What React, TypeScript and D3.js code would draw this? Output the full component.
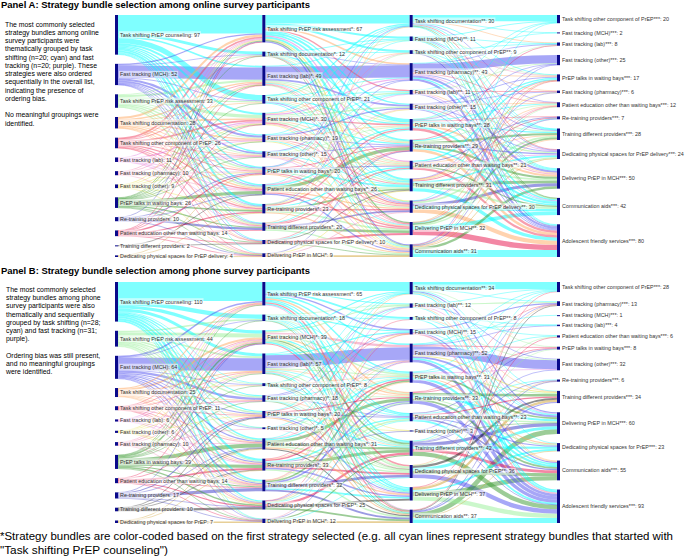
import { useEffect, useRef } from 'react';
import * as d3 from 'd3';

// ---------- Panel A: online survey ----------
const namesA1 = ['Task shifting PrEP counseling', 'Fast tracking (MCH)', 'Task shifting PrEP risk assessment', 'Task shifting documentation', 'Task shifting other component of PrEP', 'Fast tracking (lab)', 'Fast tracking (pharmacy)', 'Fast tracking (other)', 'PrEP talks in waiting bays', 'Re-training providers', 'Patient education other than waiting bays', 'Training different providers', 'Dedicating physical spaces for PrEP delivery'];
const valuesA1 = [97, 52, 33, 28, 26, 11, 10, 9, 26, 10, 14, 2, 4];
const namesA2 = ['Task shifting PrEP risk assessment', 'Task shifting documentation', 'Fast tracking (lab)', 'Task shifting other component of PrEP', 'Fast tracking (MCH)', 'Fast tracking (pharmacy)', 'Fast tracking (other)', 'PrEP talks in waiting bays', 'Patient education other than waiting bays', 'Re-training providers', 'Training different providers', 'Dedicating physical spaces for PrEP delivery', 'Delivering PrEP in MCH'];
const valuesA2 = [67, 12, 49, 21, 30, 19, 15, 20, 26, 23, 20, 10, 9];
const namesA3 = ['Task shifting documentation', 'Fast tracking (MCH)', 'Task shifting other component of PrEP', 'Fast tracking (pharmacy)', 'Fast tracking (lab)', 'Fast tracking (other)', 'PrEP talks in waiting bays', 'Re-training providers', 'Patient education other than waiting bays', 'Training different providers', 'Dedicating physical spaces for PrEP delivery', 'Delivering PrEP in MCH', 'Communication aids'];
const valuesA3 = [30, 11, 9, 43, 11, 15, 28, 29, 21, 31, 30, 32, 31];
const namesA4 = ['Task shifting other component of PrEP', 'Fast tracking (MCH)', 'Fast tracking (lab)', 'Fast tracking (other)', 'PrEP talks in waiting bays', 'Fast tracking (pharmacy)', 'Patient education other than waiting bays', 'Re-training providers', 'Training different providers', 'Dedicating physical spaces for PrEP delivery', 'Delivering PrEP in MCH', 'Communication aids', 'Adolescent friendly services'];
const valuesA4 = [20, 2, 8, 25, 17, 6, 12, 7, 28, 24, 50, 42, 80];

// [source, target, count] (colour = first strategy = source)
const linksA12 = [
  [0, 0, 45], [0, 1, 7], [0, 2, 4], [0, 3, 13], [0, 4, 5], [0, 5, 3], [0, 6, 3], [0, 7, 3], [0, 8, 4], [0, 9, 5], [0, 10, 2], [0, 11, 2], [0, 12, 1],
  [1, 2, 30], [1, 0, 3], [1, 5, 5], [1, 6, 4], [1, 3, 2], [1, 7, 2], [1, 8, 2], [1, 9, 1], [1, 10, 1], [1, 1, 1], [1, 11, 1],
  [2, 1, 2], [2, 2, 5], [2, 3, 3], [2, 4, 8], [2, 5, 2], [2, 6, 2], [2, 7, 3], [2, 8, 3], [2, 9, 2], [2, 10, 3],
  [3, 0, 5], [3, 2, 3], [3, 3, 2], [3, 4, 4], [3, 5, 3], [3, 6, 2], [3, 7, 2], [3, 8, 3], [3, 9, 2], [3, 10, 1], [3, 11, 1],
  [4, 0, 4], [4, 1, 1], [4, 2, 2], [4, 4, 4], [4, 5, 2], [4, 6, 1], [4, 7, 2], [4, 8, 3], [4, 9, 3], [4, 10, 2], [4, 11, 1], [4, 12, 1],
  [5, 4, 3], [5, 5, 2], [5, 0, 2], [5, 6, 1], [5, 8, 1], [5, 9, 1], [5, 10, 1],
  [6, 0, 2], [6, 2, 2], [6, 4, 2], [6, 6, 1], [6, 7, 1], [6, 12, 1], [6, 8, 1],
  [7, 0, 2], [7, 2, 1], [7, 4, 2], [7, 5, 1], [7, 7, 1], [7, 9, 1], [7, 12, 1],
  [8, 8, 8], [8, 9, 4], [8, 0, 2], [8, 2, 1], [8, 4, 1], [8, 3, 1], [8, 10, 3], [8, 11, 2], [8, 12, 1], [8, 1, 1], [8, 5, 1], [8, 6, 1],
  [9, 10, 5], [9, 7, 2], [9, 8, 1], [9, 0, 1], [9, 12, 1],
  [10, 7, 3], [10, 9, 3], [10, 0, 1], [10, 4, 1], [10, 10, 2], [10, 11, 2], [10, 2, 1], [10, 12, 1],
  [11, 11, 1], [11, 8, 1],
  [12, 12, 2], [12, 9, 1], [12, 7, 1],
];
// [source, target, count, first strategy]
const linksA23 = [
  [0, 0, 21, 0], [0, 1, 5, 0], [0, 2, 5, 0], [0, 3, 4, 3], [0, 4, 3, 4], [0, 5, 3, 0], [0, 6, 5, 0], [0, 7, 4, 0], [0, 8, 3, 5], [0, 9, 5, 0], [0, 10, 3, 7], [0, 11, 3, 8], [0, 12, 3, 1],
  [1, 1, 2, 0], [1, 2, 1, 0], [1, 3, 1, 1], [1, 6, 3, 0], [1, 7, 1, 2], [1, 9, 1, 2], [1, 10, 1, 0], [1, 11, 1, 4], [1, 12, 1, 8],
  [2, 3, 30, 1], [2, 5, 4, 1], [2, 1, 2, 0], [2, 6, 2, 2], [2, 7, 2, 2], [2, 8, 2, 3], [2, 9, 2, 0], [2, 10, 2, 6], [2, 11, 1, 4], [2, 12, 2, 2],
  [3, 0, 3, 0], [3, 1, 1, 2], [3, 3, 2, 0], [3, 4, 2, 0], [3, 6, 3, 0], [3, 7, 2, 3], [3, 8, 2, 2], [3, 9, 2, 0], [3, 10, 2, 1], [3, 12, 2, 0],
  [4, 4, 3, 2], [4, 3, 3, 5], [4, 0, 2, 0], [4, 2, 1, 3], [4, 5, 3, 2], [4, 6, 3, 4], [4, 7, 3, 0], [4, 8, 2, 3], [4, 9, 3, 2], [4, 10, 3, 4], [4, 11, 2, 6], [4, 12, 2, 7],
  [5, 4, 1, 0], [5, 5, 3, 1], [5, 0, 1, 0], [5, 6, 2, 3], [5, 7, 2, 1], [5, 8, 2, 2], [5, 9, 2, 4], [5, 10, 2, 3], [5, 11, 2, 0], [5, 12, 2, 7],
  [6, 3, 2, 1], [6, 4, 1, 0], [6, 6, 2, 2], [6, 7, 2, 1], [6, 8, 1, 3], [6, 9, 2, 0], [6, 10, 2, 4], [6, 11, 2, 3], [6, 12, 1, 5],
  [7, 7, 2, 10], [7, 8, 2, 9], [7, 9, 4, 0], [7, 10, 3, 2], [7, 11, 3, 4], [7, 12, 3, 3], [7, 0, 1, 1], [7, 1, 1, 0], [7, 2, 1, 6],
  [8, 7, 8, 8], [8, 6, 3, 0], [8, 9, 3, 2], [8, 10, 3, 3], [8, 11, 3, 4], [8, 12, 3, 1], [8, 0, 1, 0], [8, 4, 1, 5], [8, 5, 1, 6],
  [9, 9, 4, 8], [9, 8, 3, 0], [9, 6, 3, 4], [9, 10, 3, 10], [9, 11, 4, 2], [9, 12, 3, 3], [9, 3, 1, 1], [9, 5, 1, 7], [9, 2, 1, 2],
  [10, 10, 4, 9], [10, 11, 6, 8], [10, 12, 3, 2], [10, 8, 3, 4], [10, 6, 2, 0], [10, 7, 1, 10], [10, 0, 1, 3],
  [11, 11, 5, 10], [11, 12, 2, 8], [11, 8, 1, 0], [11, 9, 1, 11], [11, 7, 1, 4],
  [12, 12, 4, 12], [12, 9, 2, 7], [12, 10, 2, 6], [12, 7, 1, 9],
];
const linksA34 = [
  [0, 0, 15, 0], [0, 1, 1, 0], [0, 2, 2, 3], [0, 4, 2, 0], [0, 6, 1, 1], [0, 8, 2, 0], [0, 9, 2, 4], [0, 10, 2, 0], [0, 11, 1, 8], [0, 12, 2, 0],
  [1, 0, 2, 0], [1, 2, 1, 0], [1, 4, 1, 2], [1, 8, 1, 0], [1, 9, 1, 1], [1, 10, 2, 0], [1, 11, 1, 8], [1, 12, 2, 0],
  [2, 2, 1, 0], [2, 4, 1, 6], [2, 5, 1, 3], [2, 8, 1, 0], [2, 10, 2, 0], [2, 11, 1, 2], [2, 12, 2, 9],
  [3, 3, 20, 1], [3, 2, 2, 1], [3, 1, 1, 0], [3, 4, 2, 3], [3, 6, 1, 4], [3, 8, 2, 1], [3, 9, 2, 5], [3, 10, 5, 1], [3, 11, 3, 0], [3, 12, 5, 1],
  [4, 3, 2, 2], [4, 5, 2, 4], [4, 0, 1, 0], [4, 10, 2, 3], [4, 11, 2, 5], [4, 12, 2, 1],
  [5, 4, 2, 1], [5, 5, 1, 1], [5, 6, 1, 3], [5, 8, 2, 2], [5, 9, 2, 1], [5, 10, 3, 6], [5, 11, 2, 0], [5, 12, 2, 1],
  [6, 6, 2, 0], [6, 7, 1, 4], [6, 8, 3, 0], [6, 9, 3, 2], [6, 10, 5, 3], [6, 11, 5, 0], [6, 12, 6, 4], [6, 0, 1, 0], [6, 3, 1, 1], [6, 2, 1, 2],
  [7, 8, 5, 8], [7, 4, 3, 0], [7, 6, 2, 2], [7, 9, 3, 1], [7, 10, 5, 8], [7, 11, 4, 0], [7, 12, 6, 3], [7, 2, 1, 10],
  [8, 4, 3, 0], [8, 7, 2, 9], [8, 8, 2, 3], [8, 9, 2, 5], [8, 10, 4, 2], [8, 11, 3, 8], [8, 12, 5, 4],
  [9, 7, 2, 10], [9, 9, 4, 0], [9, 10, 7, 8], [9, 11, 5, 2], [9, 12, 8, 0], [9, 6, 2, 3], [9, 3, 1, 1], [9, 4, 1, 4], [9, 5, 1, 7],
  [10, 10, 7, 9], [10, 11, 6, 0], [10, 12, 10, 3], [10, 8, 4, 2], [10, 6, 1, 6], [10, 0, 1, 0], [10, 5, 1, 1],
  [11, 11, 9, 0], [11, 12, 13, 10], [11, 8, 4, 8], [11, 9, 3, 2], [11, 6, 1, 4], [11, 7, 1, 0], [11, 4, 1, 12],
  [12, 12, 17, 0], [12, 10, 6, 8], [12, 9, 2, 12], [12, 8, 2, 3], [12, 6, 1, 2], [12, 3, 1, 1], [12, 4, 1, 4], [12, 7, 1, 9],
];

// ---------- Panel B: phone survey ----------
const namesB1 = ['Task shifting PrEP counseling', 'Task shifting PrEP risk assessment', 'Fast tracking (MCH)', 'Task shifting documentation', 'Task shifting other component of PrEP', 'Fast tracking (lab)', 'Fast tracking (other)', 'Fast tracking (pharmacy)', 'PrEP talks in waiting bays', 'Patient education other than waiting bays', 'Re-training providers', 'Training different providers', 'Dedicating physical spaces for PrEP'];
const valuesB1 = [110, 44, 64, 25, 11, 6, 6, 10, 39, 14, 17, 10, 7];
const namesB2 = ['Task shifting PrEP risk assessment', 'Task shifting documentation', 'Fast tracking (MCH)', 'Fast tracking (lab)', 'Task shifting other component of PrEP', 'Fast tracking (pharmacy)', 'PrEP talks in waiting bays', 'Fast tracking (other)', 'Patient education other than waiting bays', 'Re-training providers', 'Training different providers', 'Dedicating physical spaces for PrEP', 'Delivering PrEP in MCH'];
const valuesB2 = [65, 18, 39, 57, 8, 18, 20, 5, 31, 33, 32, 25, 12];
const namesB3 = ['Task shifting documentation', 'Fast tracking (lab)', 'Task shifting other component of PrEP', 'Fast tracking (MCH)', 'Fast tracking (pharmacy)', 'PrEP talks in waiting bays', 'Re-training providers', 'Patient education other than waiting bays', 'Fast tracking (other)', 'Training different providers', 'Dedicating physical spaces for PrEP', 'Delivering PrEP in MCH', 'Communication aids'];
const valuesB3 = [34, 12, 8, 15, 52, 31, 33, 23, 3, 42, 36, 37, 37];
const namesB4 = ['Task shifting other component of PrEP', 'Fast tracking (pharmacy)', 'Fast tracking (MCH)', 'Fast tracking (lab)', 'Patient education other than waiting bays', 'PrEP talks in waiting bays', 'Fast tracking (other)', 'Re-training providers', 'Training different providers', 'Delivering PrEP in MCH', 'Dedicating physical spaces for PrEP', 'Communication aids', 'Adolescent friendly services'];
const valuesB4 = [28, 13, 1, 4, 6, 8, 32, 6, 34, 60, 23, 55, 93];

const linksB12 = [
  [0, 0, 53], [0, 1, 12], [0, 2, 9], [0, 3, 8], [0, 4, 2], [0, 5, 3], [0, 6, 3], [0, 7, 1], [0, 8, 4], [0, 9, 6], [0, 10, 5], [0, 11, 3], [0, 12, 1],
  [1, 1, 4], [1, 2, 11], [1, 3, 5], [1, 4, 2], [1, 5, 4], [1, 6, 4], [1, 7, 1], [1, 8, 3], [1, 9, 3], [1, 10, 4], [1, 11, 2], [1, 12, 1],
  [2, 3, 35], [2, 0, 4], [2, 1, 1], [2, 5, 6], [2, 7, 2], [2, 6, 3], [2, 8, 3], [2, 9, 3], [2, 10, 3], [2, 11, 2], [2, 12, 1], [2, 4, 1],
  [3, 0, 3], [3, 2, 5], [3, 3, 3], [3, 4, 2], [3, 5, 2], [3, 6, 2], [3, 8, 2], [3, 9, 2], [3, 10, 2], [3, 11, 2],
  [4, 2, 2], [4, 3, 1], [4, 0, 1], [4, 5, 1], [4, 6, 1], [4, 8, 1], [4, 9, 2], [4, 10, 1], [4, 11, 1],
  [5, 2, 2], [5, 5, 1], [5, 0, 1], [5, 9, 1], [5, 10, 1],
  [6, 2, 1], [6, 3, 1], [6, 0, 1], [6, 6, 1], [6, 10, 1], [6, 11, 1],
  [7, 2, 3], [7, 3, 2], [7, 0, 1], [7, 7, 1], [7, 8, 1], [7, 10, 1], [7, 12, 1],
  [8, 8, 11], [8, 9, 9], [8, 2, 4], [8, 3, 2], [8, 1, 1], [8, 10, 3], [8, 11, 4], [8, 12, 2], [8, 5, 1], [8, 4, 1], [8, 0, 1],
  [9, 9, 5], [9, 11, 3], [9, 6, 2], [9, 10, 2], [9, 2, 1], [9, 12, 1],
  [10, 10, 9], [10, 6, 3], [10, 8, 2], [10, 2, 1], [10, 11, 1], [10, 12, 1],
  [11, 11, 6], [11, 8, 2], [11, 9, 1], [11, 6, 1],
  [12, 12, 4], [12, 8, 2], [12, 9, 1],
];
const linksB23 = [
  [0, 0, 25, 0], [0, 1, 3, 0], [0, 2, 5, 0], [0, 3, 4, 2], [0, 4, 4, 0], [0, 5, 4, 0], [0, 6, 4, 3], [0, 7, 3, 0], [0, 9, 4, 0], [0, 10, 4, 4], [0, 11, 3, 0], [0, 12, 2, 5],
  [1, 2, 2, 0], [1, 3, 3, 0], [1, 1, 1, 1], [1, 5, 2, 0], [1, 6, 2, 1], [1, 7, 1, 0], [1, 9, 2, 0], [1, 10, 2, 1], [1, 11, 2, 0], [1, 12, 1, 8],
  [2, 1, 3, 1], [2, 4, 6, 7], [2, 0, 3, 0], [2, 5, 4, 1], [2, 6, 4, 3], [2, 7, 3, 0], [2, 8, 1, 6], [2, 9, 4, 8], [2, 10, 4, 1], [2, 11, 4, 0], [2, 12, 3, 4],
  [3, 4, 35, 2], [3, 3, 3, 0], [3, 0, 2, 0], [3, 5, 3, 1], [3, 6, 2, 3], [3, 7, 2, 0], [3, 9, 3, 1], [3, 10, 2, 7], [3, 11, 3, 0], [3, 12, 2, 8],
  [4, 0, 1, 0], [4, 1, 1, 1], [4, 5, 1, 3], [4, 9, 1, 0], [4, 10, 1, 8], [4, 11, 1, 1], [4, 12, 2, 0],
  [5, 1, 2, 2], [5, 3, 2, 2], [5, 5, 2, 0], [5, 6, 2, 1], [5, 7, 2, 2], [5, 9, 2, 3], [5, 10, 2, 1], [5, 11, 2, 0], [5, 12, 2, 8],
  [6, 6, 3, 9], [6, 7, 2, 10], [6, 9, 3, 0], [6, 10, 3, 1], [6, 11, 3, 2], [6, 12, 3, 3], [6, 0, 1, 0], [6, 8, 1, 6], [6, 3, 1, 4],
  [7, 4, 2, 2], [7, 1, 1, 0], [7, 5, 1, 1], [7, 11, 1, 7],
  [8, 6, 8, 8], [8, 5, 4, 0], [8, 9, 6, 8], [8, 10, 4, 1], [8, 11, 4, 3], [8, 12, 3, 11], [8, 4, 1, 7], [8, 0, 1, 0],
  [9, 9, 8, 8], [9, 5, 4, 9], [9, 7, 4, 0], [9, 10, 5, 9], [9, 11, 4, 2], [9, 12, 4, 1], [9, 4, 2, 3], [9, 2, 1, 4], [9, 8, 1, 10],
  [10, 10, 7, 10], [10, 11, 5, 0], [10, 12, 5, 10], [10, 7, 4, 1], [10, 5, 4, 8], [10, 6, 4, 2], [10, 3, 1, 6], [10, 1, 1, 5], [10, 0, 1, 3],
  [11, 11, 5, 11], [11, 12, 5, 8], [11, 9, 6, 9], [11, 7, 2, 0], [11, 6, 3, 1], [11, 5, 2, 3], [11, 4, 1, 2], [11, 3, 1, 4],
  [12, 12, 5, 12], [12, 9, 3, 8], [12, 10, 2, 0], [12, 6, 1, 10], [12, 4, 1, 7],
];
const linksB34 = [
  [0, 0, 20, 0], [0, 1, 2, 0], [0, 5, 1, 1], [0, 8, 2, 0], [0, 9, 3, 2], [0, 10, 1, 0], [0, 11, 2, 3], [0, 12, 3, 0],
  [1, 1, 3, 1], [1, 6, 2, 2], [1, 0, 1, 0], [1, 9, 2, 5], [1, 11, 2, 3], [1, 12, 2, 0],
  [2, 3, 1, 0], [2, 4, 1, 0], [2, 8, 1, 3], [2, 9, 2, 0], [2, 12, 3, 0],
  [3, 1, 3, 2], [3, 3, 1, 0], [3, 6, 2, 1], [3, 9, 2, 0], [3, 11, 3, 2], [3, 12, 4, 7],
  [4, 6, 25, 2], [4, 2, 1, 0], [4, 3, 2, 2], [4, 0, 2, 0], [4, 8, 3, 6], [4, 9, 5, 2], [4, 11, 5, 0], [4, 12, 7, 2], [4, 5, 2, 9],
  [5, 4, 2, 0], [5, 8, 3, 1], [5, 9, 5, 8], [5, 10, 3, 3], [5, 11, 6, 0], [5, 12, 9, 2], [5, 0, 2, 0], [5, 6, 1, 5],
  [6, 8, 7, 8], [6, 5, 2, 9], [6, 9, 6, 0], [6, 10, 3, 1], [6, 11, 5, 8], [6, 12, 9, 2], [6, 1, 1, 4],
  [7, 5, 2, 10], [7, 7, 2, 0], [7, 8, 3, 9], [7, 9, 4, 1], [7, 10, 3, 2], [7, 11, 4, 10], [7, 12, 5, 0],
  [8, 1, 1, 2], [8, 9, 1, 8], [8, 12, 1, 10],
  [9, 7, 2, 10], [9, 4, 2, 1], [9, 9, 9, 10], [9, 10, 6, 0], [9, 11, 8, 9], [9, 12, 12, 8], [9, 6, 2, 2], [9, 0, 1, 0],
  [10, 8, 6, 11], [10, 9, 8, 0], [10, 11, 8, 8], [10, 12, 12, 2], [10, 1, 1, 3], [10, 5, 1, 1],
  [11, 8, 6, 12], [11, 10, 5, 0], [11, 11, 12, 8], [11, 12, 12, 1], [11, 4, 1, 9], [11, 7, 1, 3],
  [12, 12, 14, 0], [12, 9, 13, 8], [12, 8, 3, 2], [12, 10, 2, 12], [12, 0, 2, 4], [12, 7, 1, 10], [12, 1, 2, 11],
];

const titleA = 'Panel A: Strategy bundle selection among online survey participants';
const titleB = 'Panel B: Strategy bundle selection among phone survey participants';
const introA = ['The most commonly selected', 'strategy bundles among online', 'survey participants were', 'thematically grouped by task', 'shifting (n=20; cyan) and fast', 'tracking (n=20; purple). These', 'strategies were also ordered', 'sequentially in the overall list,', 'indicating the presence of', 'ordering bias.', '', 'No meaningful groupings were', 'identified.'];
const introB = ['The most commonly selected', 'strategy bundles among phone', 'survey participants were also', 'thematically and sequentially', 'grouped by task shifting (n=28;', 'cyan) and fast tracking (n=31;', 'purple).', '', 'Ordering bias was still present,', 'and no meaningful groupings', 'were identified.'];
const footnote = ['*Strategy bundles are color-coded based on the first strategy selected (e.g. all cyan lines represent strategy bundles that started with', '"Task shifting PrEP counseling")'];
const footnoteWidths = [673, 168];

// colour of each bundle, by first strategy
const strategyColor: Record<string, string> = {
  'Task shifting PrEP counseling': '#00ffff',
  'Task shifting PrEP risk assessment': '#98f098',
  'Fast tracking (MCH)': '#5050f0',
  'Task shifting documentation': '#ffa860',
  'Task shifting other component of PrEP': '#f04060',
  'Fast tracking (lab)': '#e070e0',
  'Fast tracking (pharmacy)': '#f080b0',
  'Fast tracking (other)': '#e8e040',
  'PrEP talks in waiting bays': '#3a9a30',
  'Re-training providers': '#3838c8',
  'Patient education other than waiting bays': '#e8104a',
  'Training different providers': '#202020',
  'Dedicating physical spaces for PrEP delivery': '#d0a030',
  'Dedicating physical spaces for PrEP': '#d0a030',
};

const FONT = 'Liberation Sans, Arial, sans-serif';
const LABEL_SIZE = 5.4;

function drawPanel(svg, cols, steps, top, bottom) {
  const firstNames = cols[0].names;
  const x = d3.scaleLinear().domain([0, 3]).range([115, 557]);
  const H = bottom - top;
  const nodePad = 9.2;
  const ky = d3.min(cols, (c) => (H - (c.values.length - 1) * nodePad) / d3.sum(c.values));
  const h = d3.scaleLinear().domain([0, 1]).range([0, ky]);

  const nodes = cols.map((c, ci) => {
    const gap = (H - h(d3.sum(c.values))) / (c.values.length - 1);
    let y = top;
    return c.values.map((v, i) => {
      const n = { name: c.names[i], value: v, col: ci, x0: x(ci), x1: x(ci) + 3, y0: y, y1: y + h(v), out: [], inn: [] };
      y = n.y1 + gap;
      return n;
    });
  });

  const links = [];
  steps.forEach((step, si) =>
    step.forEach(([s, t, v, c]) => {
      const l = { source: nodes[si][s], target: nodes[si + 1][t], width: h(v), color: strategyColor[firstNames[c ?? s]], y0: 0, y1: 0 };
      l.source.out.push(l);
      l.target.inn.push(l);
      links.push(l);
    })
  );

  nodes.flat().forEach((n) => {
    n.out.sort((a, b) => a.target.y0 - b.target.y0);
    n.inn.sort((a, b) => a.source.y0 - b.source.y0);
    let y = n.y0;
    n.out.forEach((l) => { l.y0 = y + l.width / 2; y += l.width; });
    y = n.y0;
    n.inn.forEach((l) => { l.y1 = y + l.width / 2; y += l.width; });
  });

  const link = d3.linkHorizontal();
  const g = svg.append('g');

  // links: wide bands first so thin bundles sit on top
  g.append('g')
    .selectAll('path')
    .data(links.slice().sort((a, b) => b.width - a.width))
    .join('path')
    .attr('d', (d) => link({ source: [d.source.x1, d.y0], target: [d.target.x0, d.y1] }))
    .attr('fill', 'none')
    .attr('stroke', (d) => d.color)
    .attr('stroke-opacity', 0.5)
    .attr('stroke-width', (d) => Math.max(0.7, d.width));

  const flat = nodes.flat();
  g.append('g')
    .selectAll('rect')
    .data(flat)
    .join('rect')
    .attr('x', (d) => d.x0)
    .attr('y', (d) => d.y0)
    .attr('width', (d) => d.x1 - d.x0)
    .attr('height', (d) => Math.max(1, d.y1 - d.y0))
    .attr('fill', '#0a0a8a');

  const labels = g.append('g').selectAll('g').data(flat).join('g');
  const texts = labels
    .append('text')
    .attr('x', (d) => d.x1 + 2)
    .attr('y', (d) => (d.y0 + d.y1) / 2)
    .attr('dy', '0.35em')
    .attr('font-family', FONT)
    .attr('font-size', LABEL_SIZE)
    .attr('fill', '#333')
    .text((d) => `${d.name}${'*'.repeat(d.col)}: ${d.value}`);

  texts.each(function () {
    let b = this.getBBox();
    // keep the right column inside the picture
    if (b.x + b.width > 684) {
      d3.select(this).attr('font-size', (LABEL_SIZE * (684 - b.x)) / b.width);
      b = this.getBBox();
    }
    d3.select(this.parentNode)
      .insert('rect', 'text')
      .attr('x', b.x - 1)
      .attr('y', b.y - 0.5)
      .attr('width', b.width + 2)
      .attr('height', b.height + 1)
      .attr('fill', 'white')
      .attr('fill-opacity', 0.55);
  });
}

function drawText(svg, lines, x, y0, lineH, size, weight = 'normal', widths = null) {
  const t = svg
    .append('g')
    .selectAll('text')
    .data(lines)
    .join('text')
    .attr('x', x)
    .attr('y', (_, i) => y0 + i * lineH)
    .attr('font-family', FONT)
    .attr('font-size', size)
    .attr('font-weight', weight)
    .attr('fill', '#000')
    .text((d) => d);
  if (widths) {
    t.attr('textLength', (_, i) => widths[i]).attr('lengthAdjust', 'spacingAndGlyphs');
  }
}

export default function App() {
  const ref = useRef(null);

  useEffect(() => {
    document.body.style.margin = '0';
    const svg = d3.select(ref.current);
    svg.selectAll('*').remove();

    drawText(svg, [titleA], 1, 8, 0, 9.8, 'bold', [309]);
    drawText(svg, introA, 5, 26.5, 8.25, 6.9);
    drawPanel(
      svg,
      [
        { names: namesA1, values: valuesA1 },
        { names: namesA2, values: valuesA2 },
        { names: namesA3, values: valuesA3 },
        { names: namesA4, values: valuesA4 },
      ],
      [linksA12, linksA23, linksA34],
      15,
      257
    );

    drawText(svg, [titleB], 1, 274, 0, 9.8, 'bold', [309]);
    drawText(svg, introB, 6, 291.8, 8.25, 6.9);
    drawPanel(
      svg,
      [
        { names: namesB1, values: valuesB1 },
        { names: namesB2, values: valuesB2 },
        { names: namesB3, values: valuesB3 },
        { names: namesB4, values: valuesB4 },
      ],
      [linksB12, linksB23, linksB34],
      282,
      523
    );

    drawText(svg, footnote, 0, 539.5, 14, 11.5, 'normal', footnoteWidths);
  }, []);

  return <svg ref={ref} width={685} height={559} style={{ display: 'block' }} />;
}
